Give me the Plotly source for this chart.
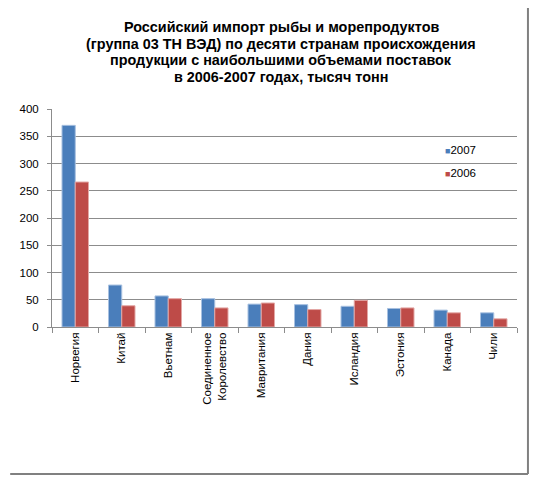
import plotly.graph_objects as go

countries = ["Норвегия", "Китай", "Вьетнам", "Соединенное<br>Королевство", "Мавритания",
             "Дания", "Исландия", "Эстония", "Канада", "Чили"]
y2007 = [370, 77, 57, 52, 42, 41, 38, 34, 31, 26]
y2006 = [266, 39, 52, 35, 44, 32, 49, 35, 26, 15]
yticks = [0, 50, 100, 150, 200, 250, 300, 350, 400]
series_names = ["2007", "2006"]
title_lines = ["Российский импорт рыбы и морепродуктов",
               "(группа 03 ТН ВЭД) по десяти странам происхождения",
               "продукции с наибольшими объемами поставок",
               "в 2006-2007 годах, тысяч тонн"]

blue = "#4A7EBB"
red = "#BE4B48"

# page body has an 8px margin, keep the figure inside the window
W, H = 521, 467
L, R, T, B = 42, 12, 101, 148
pw, ph = W - L - R, H - T - B

def px(x):
    return (x - L) / pw

def py(y):
    return (H - B - y) / ph

fig = go.Figure()
fig.add_trace(go.Bar(x=countries, y=y2007, name=series_names[0],
                     marker=dict(color=blue, line=dict(color="#A7C0E0", width=1))))
fig.add_trace(go.Bar(x=countries, y=y2006, name=series_names[1],
                     marker=dict(color=red, line=dict(color="#E3A7A5", width=1))))

# title as separate lines to get tighter line spacing
for i, line in enumerate(title_lines):
    fig.add_annotation(text="<b>" + line + "</b>", xref="paper", yref="paper",
                       x=px(272), y=py(19.5 + i * 16.4),
                       xanchor="center", yanchor="middle", showarrow=False,
                       font=dict(size=14.4, color="black"))

# legend drawn as text with small square keys
for i, (name, col) in enumerate(zip(series_names, [blue, red])):
    fig.add_annotation(text="<span style='color:%s;font-size:9px'>■</span>%s" % (col, name),
                       xref="paper", yref="paper", x=px(435), y=py(142 + i * 23),
                       xanchor="left", yanchor="middle", showarrow=False,
                       font=dict(size=11.5, color="black"))

fig.update_layout(
    width=W, height=H,
    margin=dict(l=L, r=R, t=T, b=B),
    paper_bgcolor="white", plot_bgcolor="white",
    font=dict(family="Liberation Sans, Arial", size=11, color="black"),
    barmode="group", bargap=0.43, bargroupgap=0.0,
    showlegend=False,
)
fig.update_yaxes(range=[0, 400], tickvals=yticks, showgrid=True, gridcolor="#8C8C8C",
                 gridwidth=1, zeroline=False, showline=True, linecolor="#8C8C8C",
                 ticks="outside", ticklen=4, tickcolor="#8C8C8C", ticklabelstandoff=6,
                 tickfont=dict(size=11.5))
fig.update_xaxes(tickangle=-90, showline=True, linecolor="#8C8C8C",
                 ticks="outside", ticklen=5, tickcolor="#8C8C8C", tickson="boundaries",
                 tickfont=dict(size=11.5))

# right and bottom edges of the chart frame
fig.add_shape(type="line", xref="paper", yref="paper",
              x0=px(W - 1), x1=px(W - 1), y0=py(H - 1), y1=py(0),
              line=dict(color="#808080", width=2))
fig.add_shape(type="line", xref="paper", yref="paper",
              x0=px(0), x1=px(W - 1), y0=py(H - 1), y1=py(H - 1),
              line=dict(color="#808080", width=2))

fig.write_html("out.html")
